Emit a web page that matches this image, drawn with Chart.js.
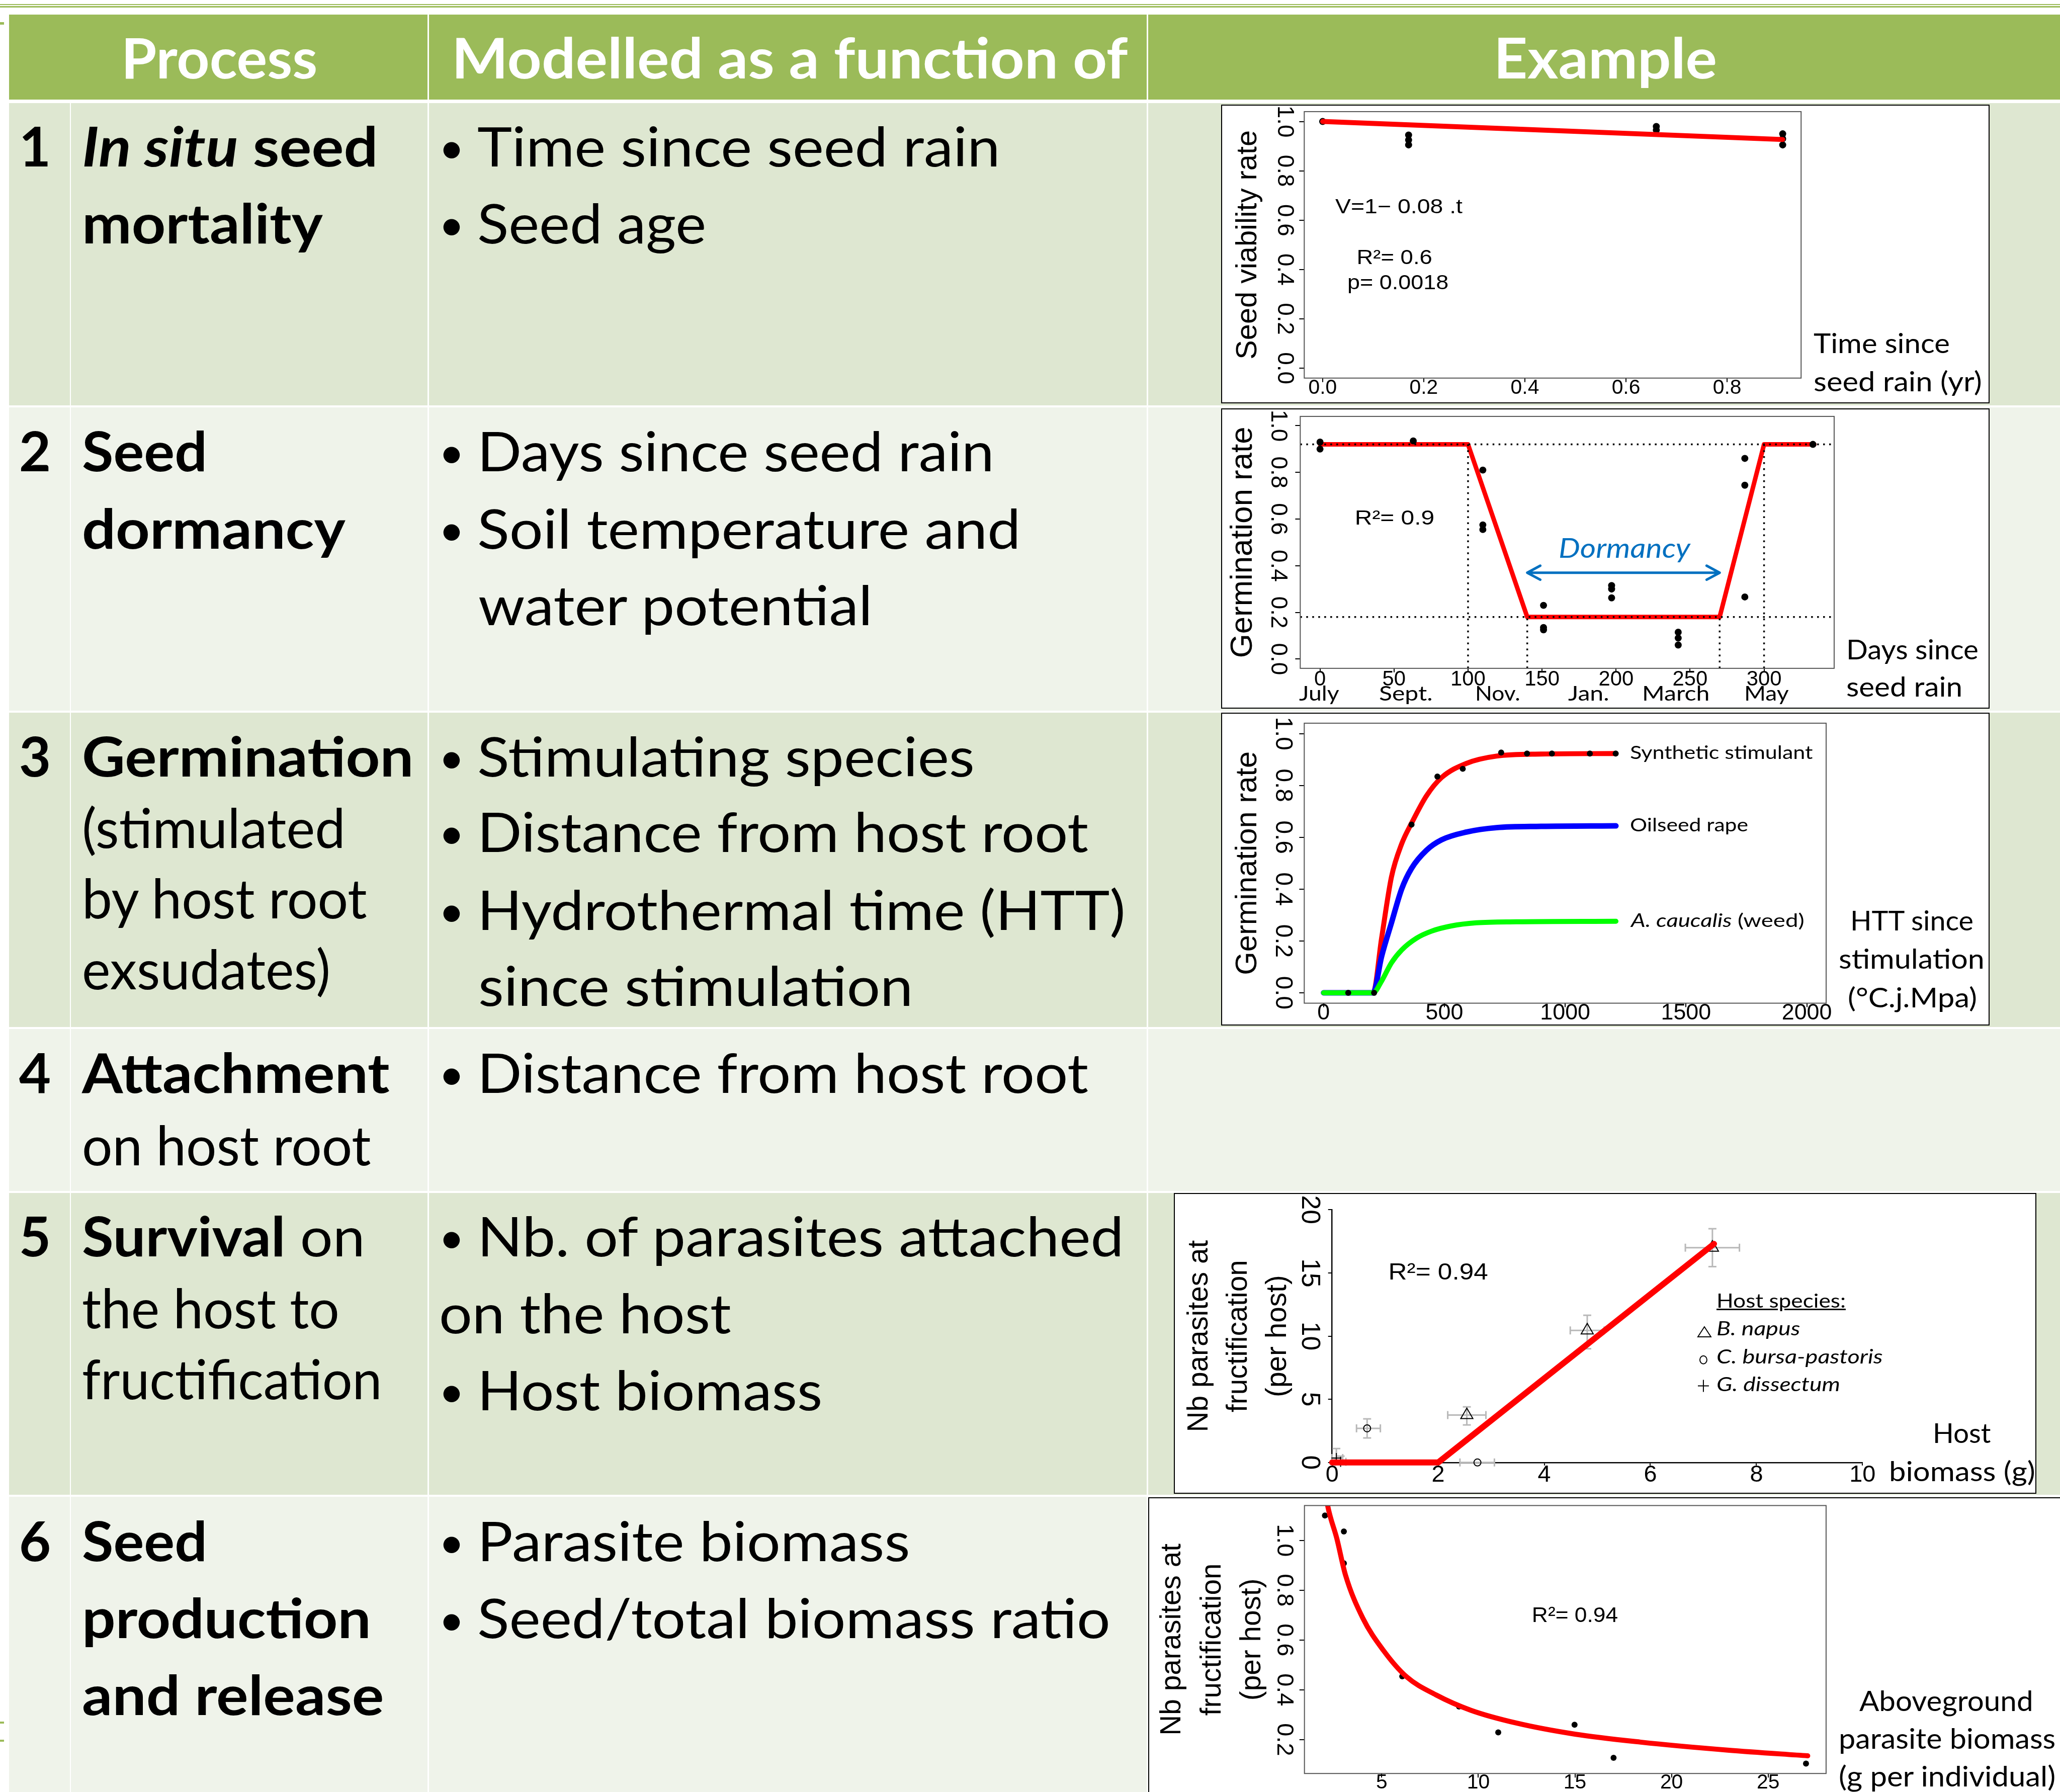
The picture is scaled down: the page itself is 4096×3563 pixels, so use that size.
<!DOCTYPE html>
<html>
<head>
<meta charset="utf-8">
<title>Seed bank model processes</title>
<script src="https://cdn.jsdelivr.net/npm/chart.js@4.4.1/dist/chart.umd.min.js"></script>
<style>
html,body{margin:0;padding:0;background:#ffffff;}
body{position:relative;width:4096px;height:3563px;overflow:hidden;}
.bg{position:absolute;}
.tx{position:absolute;white-space:nowrap;transform-origin:0 0;line-height:normal;}
canvas{position:absolute;}
</style>
</head>
<body>
<script>
// ================= DATA =================
// Chart 1 : in situ seed mortality
const c1Time = [0, 0.17, 0.17, 0.17, 0.66, 0.66, 0.91, 0.91, 0.91];
const c1Viability = [1.0, 0.945, 0.925, 0.905, 0.98, 0.965, 0.95, 0.93, 0.905];
const c1FitTime = [0, 0.91];
const c1FitViability = [1.0, 0.927];
const c1XTicks = [0, 0.2, 0.4, 0.6, 0.8];
const c1XLabels = ['0.0', '0.2', '0.4', '0.6', '0.8'];
const c1YTicks = [0, 0.2, 0.4, 0.6, 0.8, 1.0];
const c1YLabels = ['0.0', '0.2', '0.4', '0.6', '0.8', '1.0'];

// Chart 2 : seed dormancy
const c2Days = [0, 0, 63, 110, 110, 110, 151, 151, 151, 197, 197, 197, 242, 242, 242, 287, 287, 287, 333];
const c2Germ = [0.93, 0.90, 0.935, 0.81, 0.575, 0.555, 0.23, 0.135, 0.125, 0.315, 0.30, 0.262, 0.115, 0.09, 0.06, 0.86, 0.745, 0.266, 0.92];
const c2FitDays = [0, 100, 140, 270, 300, 334];
const c2FitGerm = [0.92, 0.92, 0.18, 0.18, 0.92, 0.92];
const c2RefLevels = [0.92, 0.18];
const c2RefDays = [100, 140, 270, 300];
const c2RefDayTops = [0.92, 0.18, 0.18, 0.92];
const c2DormancyDays = [140, 270];
const c2DormancyLevel = 0.37;
const c2XTicks = [0, 50, 100, 150, 200, 250, 300];
const c2XLabels = ['0', '50', '100', '150', '200', '250', '300'];
const c2YTicks = [0, 0.2, 0.4, 0.6, 0.8, 1.0];
const c2YLabels = ['0.0', '0.2', '0.4', '0.6', '0.8', '1.0'];
const c2Months = ['July', 'Sept.', 'Nov.', 'Jan.', 'March', 'May'];

// Chart 3 : germination
const c3SynthHTT = [0, 205, 240, 281, 323, 364, 426, 488, 591, 715, 900, 1210];
const c3SynthGerm = [0, 0, 0.21, 0.447, 0.574, 0.654, 0.76, 0.83, 0.885, 0.913, 0.921, 0.923];
const c3RapeHTT = [0, 205, 240, 281, 323, 364, 426, 488, 591, 715, 900, 1210];
const c3RapeGerm = [0, 0, 0.14, 0.27, 0.40, 0.48, 0.55, 0.59, 0.62, 0.637, 0.642, 0.644];
const c3WeedHTT = [0, 205, 240, 281, 323, 385, 447, 529, 632, 797, 1210];
const c3WeedGerm = [0, 0, 0.045, 0.116, 0.165, 0.211, 0.238, 0.258, 0.27, 0.274, 0.276];
const c3ObsHTT = [102, 209, 364, 471, 576, 735, 842, 945, 1102, 1209];
const c3ObsGerm = [0, 0, 0.649, 0.834, 0.864, 0.927, 0.923, 0.923, 0.923, 0.923];
const c3XTicks = [0, 500, 1000, 1500, 2000];
const c3XLabels = ['0', '500', '1000', '1500', '2000'];
const c3YTicks = [0, 0.2, 0.4, 0.6, 0.8, 1.0];
const c3YLabels = ['0.0', '0.2', '0.4', '0.6', '0.8', '1.0'];
const c3SeriesNames = ['Synthetic stimulant', 'Oilseed rape', 'A. caucalis (weed)'];

// Chart 5 : survival on the host
const c5NapusBiomass = [2.54, 4.81, 7.17];
const c5NapusParasites = [3.75, 10.45, 17.0];
const c5NapusBiomassErr = [[2.18, 2.90], [4.49, 5.13], [6.66, 7.68]];
const c5NapusParasitesErr = [[2.97, 4.40], [9.00, 11.65], [15.5, 18.5]];
const c5BursaBiomass = [0.66, 2.74];
const c5BursaParasites = [2.7, 0.0];
const c5BursaBiomassErr = [[0.46, 0.91], [2.41, 3.06]];
const c5BursaParasitesErr = [[1.94, 3.45], [0, 0]];
const c5DissBiomass = [0.08, 0.16];
const c5DissParasites = [0.35, 0.05];
const c5DissBiomassErr = [[0.0, 0.2], [0.06, 0.26]];
const c5DissParasitesErr = [[0.0, 1.1], [0.0, 0.5]];
const c5FitBiomass = [0, 2, 7.2];
const c5FitParasites = [0, 0, 17.3];
const c5XTicks = [0, 2, 4, 6, 8, 10];
const c5XLabels = ['0', '2', '4', '6', '8', '10'];
const c5YTicks = [0, 5, 10, 15, 20];
const c5YLabels = ['0', '5', '10', '15', '20'];

// Chart 6 : seed production
const c6Biomass = [2.06, 3.04, 3.04, 6.06, 9.0, 11.03, 14.98, 17.0, 26.96];
const c6Value = [1.10, 1.036, 0.908, 0.454, 0.333, 0.229, 0.26, 0.127, 0.104];
const c6FitBiomass = [2.1, 2.2, 2.68, 3.12, 4.02, 5.08, 6.29, 7.8, 9.61, 12.0, 15.0, 18.4, 22.9, 27.05];
const c6FitValue = [1.19, 1.14, 1.006, 0.862, 0.688, 0.559, 0.452, 0.38, 0.318, 0.266, 0.222, 0.19, 0.158, 0.135];
const c6XTicks = [5, 10, 15, 20, 25];
const c6XLabels = ['5', '10', '15', '20', '25'];
const c6YTicks = [0.2, 0.4, 0.6, 0.8, 1.0];
const c6YLabels = ['0.2', '0.4', '0.6', '0.8', '1.0'];

// ================= HELPERS =================
const F = 4096 / 4113;
const RF = '"Liberation Sans", Arial, Helvetica, sans-serif';
const UF = 'Lato, "Open Sans", sans-serif';
const pts = (xs, ys) => xs.map((x, i) => ({x: x, y: ys[i]}));

function rect(x0, y0, x1, y1, color, extra) {
  const d = document.createElement('div');
  d.className = 'bg';
  d.style.left = (x0 * F) + 'px';
  d.style.top = (y0 * F) + 'px';
  d.style.width = ((x1 - x0) * F) + 'px';
  d.style.height = ((y1 - y0) * F) + 'px';
  d.style.background = color;
  if (extra) Object.assign(d.style, extra);
  document.body.appendChild(d);
  return d;
}

function txt(html, x, base, size, o) {
  o = o || {};
  const d = document.createElement('div');
  d.className = 'tx';
  d.style.fontFamily = o.font || UF;
  d.style.fontSize = (size * F) + 'px';
  d.style.fontWeight = o.bold ? '700' : '400';
  d.style.fontStyle = o.italic ? 'italic' : 'normal';
  d.style.color = o.color || '#000';
  d.style.left = '0px';
  d.style.top = '0px';
  d.innerHTML = html + '<span class="bm" style="display:inline-block;width:0;height:0;vertical-align:baseline"></span>';
  document.body.appendChild(d);
  const m = d.querySelector('.bm');
  const nat = d.getBoundingClientRect().width;
  const bo = m.offsetTop;
  const k = o.w ? (o.w * F) / nat : 1;
  d.style.left = (x * F) + 'px';
  d.style.top = (base * F - bo) + 'px';
  if (k !== 1) d.style.transform = 'scaleX(' + k + ')';
  return d;
}

function mt(text, px, fam) {
  const c = mt.ctx || (mt.ctx = document.createElement('canvas').getContext('2d'));
  c.font = px + 'px ' + fam;
  return c.measureText(text).width;
}

function framePlugin(id) {
  return {id: id, afterDatasetsDraw(c) {
    const a = c.chartArea, ctx = c.ctx;
    ctx.save();
    ctx.strokeStyle = '#555';
    ctx.lineWidth = 2 * F;
    ctx.strokeRect(a.left, a.top, a.right - a.left, a.bottom - a.top);
    ctx.restore();
  }};
}

function notesPlugin(id, items) {
  return {id: id, afterDraw(c) {
    const ctx = c.ctx, xs = c.scales.x, ys = c.scales.y;
    items.forEach(it => {
      ctx.save();
      ctx.font = (it.size * F) + 'px ' + RF;
      ctx.fillStyle = '#000';
      ctx.textBaseline = 'middle';
      ctx.textAlign = it.align || 'center';
      const nat = ctx.measureText(it.text).width;
      const k = it.w ? (it.w * F) / nat : 1;
      ctx.translate(xs.getPixelForValue(it.x), ys.getPixelForValue(it.y));
      ctx.scale(k, 1);
      ctx.fillText(it.text, 0, 0);
      ctx.restore();
    });
  }};
}

const errorBarPlugin = {id: 'errbars', beforeDatasetsDraw(c) {
  const ctx = c.ctx, xs = c.scales.x, ys = c.scales.y;
  const cap = 8 * F;
  ctx.save();
  ctx.strokeStyle = '#b8b8b8';
  ctx.lineWidth = 3 * F;
  const seg = (a, b, cc, d) => { ctx.beginPath(); ctx.moveTo(a, b); ctx.lineTo(cc, d); ctx.stroke(); };
  c.data.datasets.forEach(ds => {
    if (!ds.errX) return;
    ds.data.forEach((p, i) => {
      const px = xs.getPixelForValue(p.x), py = ys.getPixelForValue(p.y);
      const ex = ds.errX[i], ey = ds.errY[i];
      if (ex[1] > ex[0]) {
        const a = xs.getPixelForValue(ex[0]), b = xs.getPixelForValue(ex[1]);
        seg(a, py, b, py); seg(a, py - cap, a, py + cap); seg(b, py - cap, b, py + cap);
      }
      if (ey[1] > ey[0]) {
        const a = ys.getPixelForValue(ey[0]), b = ys.getPixelForValue(ey[1]);
        seg(px, a, px, b); seg(px - cap, a, px + cap, a); seg(px - cap, b, px + cap, b);
      }
    });
  });
  ctx.restore();
}};

const dormancyArrowPlugin = {id: 'dormarrow', afterDatasetsDraw(c) {
  const ctx = c.ctx, xs = c.scales.x, ys = c.scales.y;
  const x0 = xs.getPixelForValue(c2DormancyDays[0]), x1 = xs.getPixelForValue(c2DormancyDays[1]);
  const y = ys.getPixelForValue(c2DormancyLevel);
  const hx = 26 * F, hy = 14 * F;
  ctx.save();
  ctx.strokeStyle = '#0070C0';
  ctx.lineWidth = 5 * F;
  ctx.lineCap = 'round';
  ctx.lineJoin = 'round';
  ctx.beginPath();
  ctx.moveTo(x0, y); ctx.lineTo(x1, y);
  ctx.moveTo(x0 + hx, y - hy); ctx.lineTo(x0, y); ctx.lineTo(x0 + hx, y + hy);
  ctx.moveTo(x1 - hx, y - hy); ctx.lineTo(x1, y); ctx.lineTo(x1 - hx, y + hy);
  ctx.stroke();
  ctx.restore();
}};

function buildChart(o) {
  const [bx0, by0, bx1, by1] = o.box, [px0, py0, px1, py1] = o.plot;
  rect(bx0, by0, bx1, by1, '#ffffff', {border: (3 * F) + 'px solid #000', boxSizing: 'border-box'});
  const W = Math.round((bx1 - bx0) * F), H = Math.round((by1 - by0) * F);
  const cv = document.createElement('canvas');
  cv.width = W; cv.height = H;
  cv.style.left = (bx0 * F) + 'px';
  cv.style.top = (by0 * F) + 'px';
  cv.style.width = W + 'px';
  cv.style.height = H + 'px';
  document.body.appendChild(cv);
  const X = o.x, Y = o.y, T = o.title;
  const yAxisW = (px0 - bx0) * F;
  const xAxisH = H - (py1 - by0) * F;
  const padTop = (py0 - by0) * F;
  const padRight = W - (px1 - bx0) * F;
  const xf = X.font * F, yf = Y.font * F, xtl = X.tl * F, ytl = Y.tl * F;
  const xPad = X.gap * F - xtl - 0.6 * xf;
  const yWide = Math.max.apply(null, Y.labels.map(l => mt(l, yf, RF)));
  const yPad = Y.gap * F - ytl - yWide / 2;
  const tf = T.font * F, tlh = T.lh || 1.2;
  const tPad = (px0 - bx0 - T.gap) * F - tf * tlh / 2;
  const border = o.axisLines ? {display: true, color: '#000', width: 2.5 * F} : {display: false};
  const zero = s => { s.paddingLeft = 0; s.paddingRight = 0; s.paddingTop = 0; s.paddingBottom = 0; };
  return new Chart(cv, {
    type: 'scatter',
    data: {datasets: o.datasets},
    options: {
      responsive: false, animation: false, devicePixelRatio: 1, events: [],
      layout: {padding: {left: 0, top: padTop, right: padRight, bottom: 0}, autoPadding: false},
      plugins: {legend: {display: false}, tooltip: {enabled: false}, title: {display: false}},
      scales: {
        x: {
          type: 'linear', position: 'bottom', min: X.min, max: X.max,
          afterBuildTicks: s => { s.ticks = X.ticks.map(v => ({value: v})); },
          afterFit: s => { s.height = xAxisH; zero(s); },
          ticks: {autoSkip: false, minRotation: 0, maxRotation: 0, padding: xPad, color: '#000',
                  font: {family: RF, size: xf}, callback: (v, i) => X.labels[i]},
          grid: {display: true, drawOnChartArea: false, drawTicks: X.tl > 0, tickLength: xtl,
                 tickColor: '#000', tickWidth: 2 * F, color: '#000', lineWidth: 2 * F},
          border: border
        },
        y: {
          type: 'linear', position: 'left', min: Y.min, max: Y.max,
          afterBuildTicks: s => { s.ticks = Y.ticks.map(v => ({value: v})); },
          afterFit: s => { s.width = yAxisW; zero(s); },
          ticks: {autoSkip: false, minRotation: -90, maxRotation: -90, crossAlign: 'center', padding: yPad,
                  color: '#000', font: {family: RF, size: yf}, callback: (v, i) => Y.labels[i]},
          grid: {display: true, drawOnChartArea: false, drawTicks: true, tickLength: ytl,
                 tickColor: '#000', tickWidth: 2 * F, color: '#000', lineWidth: 2 * F},
          border: border,
          title: {display: true, text: T.text, color: '#000',
                  font: {family: RF, size: tf, lineHeight: tlh}, padding: {top: tPad, bottom: 0}}
        }
      }
    },
    plugins: o.plugins || []
  });
}

// ================= TABLE BACKGROUND =================
rect(0, 8, 4113, 10, '#9BBB59');
rect(0, 12, 4113, 15, '#9BBB59');
rect(0, 44, 8, 49, '#9BBB59');
rect(0, 3437, 8, 3441, '#9BBB59');
rect(0, 3473, 8, 3477, '#9BBB59');
rect(18, 29, 4113, 199, '#9BBB59');
rect(854, 29, 857, 199, '#ffffff');
rect(2289, 29, 2292, 199, '#ffffff');
const rowBands = [[206, 809], [813, 1419], [1423, 2050], [2054, 2378], [2382, 2984], [2988, 3600]];
rowBands.forEach((r, i) => {
  rect(18, r[0], 4113, r[1], i % 2 ? '#EFF3EA' : '#DEE7D1');
  rect(140, r[0], 142, r[1], '#ffffff');
  rect(854, r[0], 857, r[1], '#ffffff');
  rect(2289, r[0], 2292, r[1], '#ffffff');
});

// ================= CHARTS =================
const lineDs = (data, color, width, order, extra) => Object.assign({
  data: data, showLine: true, borderColor: color, backgroundColor: color, borderWidth: width * F,
  pointRadius: 0, borderCapStyle: 'round', borderJoinStyle: 'round', order: order
}, extra || {});
const dotDs = (data, r, order, extra) => Object.assign({
  data: data, pointRadius: r * F, backgroundColor: '#000', borderColor: '#000',
  pointBackgroundColor: '#000', pointBorderColor: '#000', pointBorderWidth: 0, order: order
}, extra || {});

// Chart 1
buildChart({
  box: [2438, 209, 3972, 805], plot: [2604, 223, 3596, 755],
  x: {min: -0.0364, max: 0.9464, ticks: c1XTicks, labels: c1XLabels, font: 41, gap: 20, tl: 8},
  y: {min: -0.04, max: 1.04, ticks: c1YTicks, labels: c1YLabels, font: 46, gap: 40, tl: 10},
  title: {text: 'Seed viability rate', font: 58, gap: 112},
  datasets: [
    lineDs(pts(c1FitTime, c1FitViability), '#FF0000', 10, 0),
    dotDs(pts(c1Time, c1Viability), 7, 1)
  ],
  plugins: [framePlugin('frame1'), notesPlugin('notes1', [
    {text: 'V=1\u2212 0.08 .t', x: 0.025, y: 0.65, align: 'left', size: 40, w: 254},
    {text: 'R\u00b2= 0.6', x: 0.142, y: 0.445, size: 40, w: 151},
    {text: 'p= 0.0018', x: 0.149, y: 0.342, size: 40, w: 202}
  ])]
});

// Chart 2
const c2XMin = -13.36, c2XMax = 347.36, c2YMin = -0.04;
const c2Refs = [];
c2RefLevels.forEach(l => c2Refs.push(lineDs([{x: c2XMin, y: l}, {x: c2XMax, y: l}], '#000', 3.5, 2, {borderDash: [3.5 * F, 8.5 * F], borderCapStyle: 'butt'})));
c2RefDays.forEach((d, i) => c2Refs.push(lineDs([{x: d, y: c2YMin}, {x: d, y: c2RefDayTops[i]}], '#000', 3.5, 2, {borderDash: [3.5 * F, 8.5 * F], borderCapStyle: 'butt'})));
buildChart({
  box: [2438, 815, 3972, 1415], plot: [2596, 831, 3662, 1334],
  x: {min: c2XMin, max: c2XMax, ticks: c2XTicks, labels: c2XLabels, font: 42, gap: 23, tl: 8},
  y: {min: c2YMin, max: 1.04, ticks: c2YTicks, labels: c2YLabels, font: 46, gap: 45, tl: 10},
  title: {text: 'Germination rate', font: 62, gap: 114},
  datasets: [lineDs(pts(c2FitDays, c2FitGerm), '#FF0000', 9, 3)].concat(c2Refs, [dotDs(pts(c2Days, c2Germ), 7, 1)]),
  plugins: [framePlugin('frame2'), dormancyArrowPlugin, notesPlugin('notes2', [
    {text: 'R\u00b2= 0.9', x: 50.4, y: 0.60, size: 40, w: 159}
  ])]
});

// Chart 3
buildChart({
  box: [2438, 1423, 3972, 2047], plot: [2604, 1444, 3646, 2003],
  x: {min: -80, max: 2080, ticks: c3XTicks, labels: c3XLabels, font: 45, gap: 20, tl: 8},
  y: {min: -0.04, max: 1.04, ticks: c3YTicks, labels: c3YLabels, font: 48, gap: 43, tl: 10},
  title: {text: 'Germination rate', font: 60, gap: 112},
  datasets: [
    lineDs(pts(c3SynthHTT, c3SynthGerm), '#FF0000', 10, 3, {cubicInterpolationMode: 'monotone'}),
    lineDs(pts(c3RapeHTT, c3RapeGerm), '#0000FF', 11, 2, {cubicInterpolationMode: 'monotone'}),
    lineDs(pts(c3WeedHTT, c3WeedGerm), '#00FF00', 10, 1, {cubicInterpolationMode: 'monotone'}),
    dotDs(pts(c3ObsHTT, c3ObsGerm), 6, 0)
  ],
  plugins: [framePlugin('frame3')]
});

// Chart 5
const openPt = (data, style, r, errX, errY) => ({
  data: data, pointStyle: style, pointRadius: r * F, pointBorderWidth: 2 * F,
  pointBorderColor: '#000', borderColor: '#000', pointBackgroundColor: 'rgba(0,0,0,0)',
  backgroundColor: 'rgba(0,0,0,0)', errX: errX, errY: errY, clip: false, order: 1
});
buildChart({
  box: [2344, 2382, 4066, 2982], plot: [2660, 2415.5, 3719, 2920],
  x: {min: 0, max: 10, ticks: c5XTicks, labels: c5XLabels, font: 47, gap: 25, tl: 6},
  y: {min: 0, max: 20, ticks: c5YTicks, labels: c5YLabels, font: 52, gap: 46, tl: 8},
  title: {text: ['Nb parasites at', 'fructification', '(per host)'], font: 57, lh: 1.37, gap: 264},
  axisLines: true,
  datasets: [
    lineDs(pts(c5FitBiomass, c5FitParasites), '#FF0000', 12, 0, {clip: false}),
    openPt(pts(c5NapusBiomass, c5NapusParasites), 'triangle', 14, c5NapusBiomassErr, c5NapusParasitesErr),
    openPt(pts(c5BursaBiomass, c5BursaParasites), 'circle', 7, c5BursaBiomassErr, c5BursaParasitesErr),
    openPt(pts(c5DissBiomass, c5DissParasites), 'cross', 10, c5DissBiomassErr, c5DissParasitesErr)
  ],
  plugins: [errorBarPlugin, notesPlugin('notes5', [
    {text: 'R\u00b2= 0.94', x: 2.0, y: 15.0, size: 47, w: 199}
  ])]
});

// Chart 6
buildChart({
  box: [2292, 2989.5, 4140, 3620], plot: [2604, 3006, 3645.5, 3541],
  x: {min: 1, max: 28, ticks: c6XTicks, labels: c6XLabels, font: 41, gap: 18.6, tl: 8},
  y: {min: 0.064, max: 1.14, ticks: c6YTicks, labels: c6YLabels, font: 47, gap: 41, tl: 10},
  title: {text: ['Nb parasites at', 'fructification', '(per host)'], font: 57, lh: 1.40, gap: 263},
  datasets: [
    lineDs(pts(c6FitBiomass, c6FitValue), '#FF0000', 10, 0, {cubicInterpolationMode: 'monotone'}),
    dotDs(pts(c6Biomass, c6Value), 6, 1)
  ],
  plugins: [framePlugin('frame6'), notesPlugin('notes6', [
    {text: 'R\u00b2= 0.94', x: 15.0, y: 0.697, size: 43, w: 172}
  ])]
});

// ================= TABLE TEXT =================
const HS = 112;
txt('Process', 242, 157, HS, {bold: true, color: '#fff', w: 392});
txt('Modelled as a function of', 902, 157, HS, {bold: true, color: '#fff', w: 1350});
txt('Example', 2982, 157, HS, {bold: true, color: '#fff', w: 446});

const BS = 110;
[['1', 332], ['2', 941], ['3', 1550], ['4', 2182], ['5', 2508], ['6', 3117]].forEach(n => txt(n[0], 38, n[1], BS, {bold: true}));

[
  ['<b><i>In situ</i> seed</b>', 332, 591],
  ['<b>mortality</b>', 486, 481],
  ['<b>Seed</b>', 941, 250],
  ['<b>dormancy</b>', 1096, 526],
  ['<b>Germination</b>', 1550, 662],
  ['(stimulated', 1693, 526],
  ['by host root', 1834, 569],
  ['exsudates)', 1975, 496],
  ['<b>Attachment</b>', 2182, 614],
  ['on host root', 2327, 577],
  ['<b>Survival</b> on', 2508, 565],
  ['the host to', 2652, 514],
  ['fructification', 2794, 599],
  ['<b>Seed</b>', 3117, 250],
  ['<b>production</b>', 3271, 577],
  ['<b>and release</b>', 3424, 603]
].forEach(l => txt(l[0], 164, l[1], BS, {w: l[2]}));

[
  [true, 'Time since seed rain', 332, 1044, 953],
  [true, 'Seed age', 486, 457, 953],
  [true, 'Days since seed rain', 941, 1032, 953],
  [true, 'Soil temperature and', 1096, 1085, 953],
  [false, 'water potential', 1248, 787, 955],
  [true, 'Stimulating species', 1550, 993, 953],
  [true, 'Distance from host root', 1701, 1220, 953],
  [true, 'Hydrothermal time (HTT)', 1857, 1294, 953],
  [false, 'since stimulation', 2008, 868, 955],
  [true, 'Distance from host root', 2182, 1220, 953],
  [true, 'Nb. of parasites attached', 2508, 1291, 953],
  [false, 'on the host', 2662, 583, 877],
  [true, 'Host biomass', 2816, 689, 953],
  [true, 'Parasite biomass', 3117, 864, 953],
  [true, 'Seed/total biomass ratio', 3271, 1264, 953]
].forEach(l => {
  if (l[0]) txt('\u2022', 876, l[2] - 6, 88);
  txt(l[1], l[4], l[2], BS, {w: l[3]});
});

// ================= CHART SIDE TEXT =================
const SS = 54;
txt('Time since', 3621, 705, SS, {w: 272});
txt('seed rain (yr)', 3621, 781, SS, {w: 336});
txt('Days since', 3686, 1316, SS, {w: 264});
txt('seed rain', 3686, 1391, SS, {w: 232});
txt('HTT since', 3694, 1858, SS, {w: 246});
txt('stimulation', 3671, 1934, SS, {w: 291});
txt('(\u00b0C.j.Mpa)', 3689, 2011, SS, {w: 258});
txt('Host', 3859, 2881, SS, {w: 116});
txt('biomass (g)', 3772, 2957, SS, {w: 292});
txt('Aboveground', 3712, 3416, 56, {w: 347});
txt('parasite biomass', 3671, 3491, 56, {w: 433});
txt('(g per individual)', 3671, 3567, 56, {w: 433});

// month labels under chart 2
const monthLefts = [2594, 2753, 2945, 3131, 3279, 3482];
const monthWidths = [80, 107, 90, 82, 135, 89];
c2Months.forEach((m, i) => txt(m, monthLefts[i], 1399, 40, {w: monthWidths[i]}));
txt('<i>Dormancy</i>', 3112, 1114, 54, {w: 263, color: '#0070C0'});

// chart 3 curve labels
txt(c3SeriesNames[0], 3254, 1515, 37, {w: 365});
txt(c3SeriesNames[1], 3254, 1660, 37, {w: 236});
txt('<i>A. caucalis</i> (weed)', 3256, 1851, 37, {w: 346});

// chart 5 legend
txt('<span style="text-decoration:underline">Host species:</span>', 3427, 2611, 39, {w: 258});
txt('<i>B. napus</i>', 3427, 2666, 39, {w: 167});
txt('<i>C. bursa-pastoris</i>', 3427, 2722, 39, {w: 332});
txt('<i>G. dissectum</i>', 3427, 2777, 39, {w: 247});

const svgNS = 'http://www.w3.org/2000/svg';
const svg = document.createElementNS(svgNS, 'svg');
svg.setAttribute('width', '4096');
svg.setAttribute('height', '3563');
svg.style.position = 'absolute';
svg.style.left = '0';
svg.style.top = '0';
const sw = 2 * F;
const P = (x, y) => (x * F) + ',' + (y * F);
svg.innerHTML =
  '<polygon points="' + P(3403, 2649) + ' ' + P(3390, 2669) + ' ' + P(3416, 2669) + '" fill="none" stroke="#000" stroke-width="' + sw + '"/>' +
  '<ellipse cx="' + 3401 * F + '" cy="' + 2715 * F + '" rx="' + 7 * F + '" ry="' + 8 * F + '" fill="none" stroke="#000" stroke-width="' + sw + '"/>' +
  '<path d="M' + P(3390, 2767) + ' L' + P(3412, 2767) + ' M' + P(3401, 2755) + ' L' + P(3401, 2779) + '" stroke="#000" stroke-width="' + sw + '"/>';
document.body.appendChild(svg);
</script>
</body>
</html>
